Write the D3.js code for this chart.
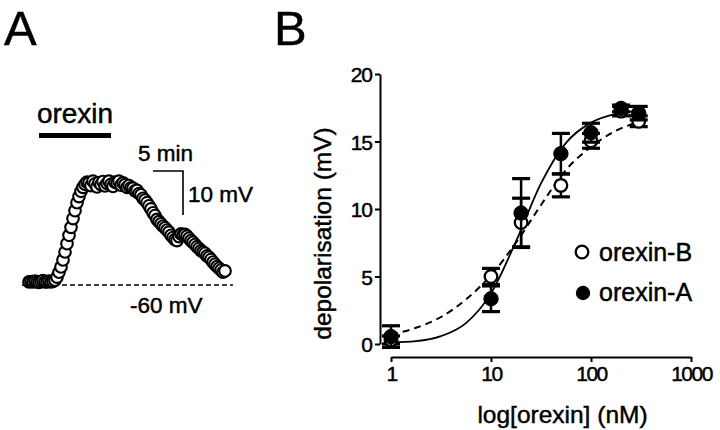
<!DOCTYPE html>
<html>
<head>
<meta charset="utf-8">
<script src="https://cdn.jsdelivr.net/npm/d3@7"></script>
<style>
  html, body { margin: 0; padding: 0; background: #fff; }
  svg { display: block; }
  text { font-family: "Liberation Sans", Arial, Helvetica, sans-serif; fill: #000; stroke: #000; stroke-width: 0.45px; }
</style>
</head>
<body>
<svg id="chart" width="720" height="430"></svg>
<script>
// ---------------- Panel A data: example recording ----------------
const traceSampleIntervalMin = 1 / 3;              // one sample every 20 s
const traceVm = [                                   // membrane potential (mV)
  -59.3,-59.2,-59.3,-59.1,-59.3,-59.4,-59.2,-59.0,-59.3,-59.3,-59.1,-59.3,-59.2,-58.9,
  -58.2,-57.1,-55.9,-54.3,-52.5,-50.6,-48.7,-46.9,-44.9,-43.1,-41.3,-39.9,-38.7,-37.8,-37.1,-36.6,
  -36.8,-37.4,-36.4,-37.0,-37.7,-36.7,-37.2,-36.5,-37.5,-36.9,-36.4,-37.1,-37.6,-36.6,-36.8,-36.4,-37.3,-36.8,-37.2,-37.8,-37.4,
  -37.9,-38.0,-38.6,-38.5,-39.2,-39.5,-40.3,-40.7,-41.3,-42.0,-42.7,-43.6,-44.2,-45.1,-45.6,-46.1,
  -46.6,-47.0,-47.5,-48.0,-48.7,-49.2,-49.7,-49.9,-49.0,-48.4,-48.6,-48.5,-48.9,-49.4,-49.9,-50.3,
  -50.8,-51.3,-51.7,-52.2,-52.5,-52.8,-53.4,-53.7,-54.2,-54.8,-55.3,-55.8,-56.2,-56.6,-57.1,-56.8
];
const restingVm = -60;
const orexinApplicationMin = [1.67, 13.67];
const baselineSpanMin = [-1.17, 34];
const scaleBarTimeMin = [20.67, 25.67];   // 5 min
const scaleBarVm = [-34.1, -44.1];        // 10 mV

// ---------------- Panel B data: concentration-response ----------------
const concentrationsNM = [1, 10, 20, 50, 100, 200, 300];
const orexinAMean = [0.55, 3.35, 9.7, 14.1, 15.65, 17.45, 17.1];
const orexinASem  = [0.8, 0.95, 2.55, 1.5, 0.7, 0.25, 0.5];
const orexinBMean = [0.3, 5.0, 9.0, 11.75, 15.05, 17.25, 16.5];
const orexinBSem  = [0.3, 0.6, 1.8, 0.85, 0.55, 0.35, 0.4];

const fitLogConc = [0, 0.25, 0.5, 0.75, 1.0, 1.25, 1.5, 1.75, 2.0, 2.25, 2.5];
const fitOrexinA = [0.12, 0.21, 0.58, 1.55, 3.75, 7.6, 11.9, 14.9, 16.4, 17.05, 17.27];
const fitOrexinB = [0.7, 1.2, 2.0, 3.3, 5.1, 7.5, 10.3, 12.9, 14.6, 15.8, 16.5];

const yTicks = [0, 5, 10, 15, 20];
const xTicks = [1, 10, 100, 1000];
const xTickLabels = ["1", "10", "100", "1000"];
const legendLabels = ["orexin-B", "orexin-A"];

// ------------------------------------------------------------------
const svg = d3.select("#chart");
svg.append("rect").attr("width", 720).attr("height", 430).attr("fill", "#fff");

// Panel letters
svg.append("text").attr("x", 4).attr("y", 44.5).attr("font-size", 49).text("A");
svg.append("text").attr("x", 274).attr("y", 44.5).attr("font-size", 49).text("B");

// ================= Panel A =================
const xA = d3.scaleLinear().domain([0, 34]).range([29, 233]);
const yA = d3.scaleLinear().domain([-60, -30]).range([285, 153]);
const gA = svg.append("g");

// baseline dashed
gA.append("line")
  .attr("x1", xA(baselineSpanMin[0])).attr("x2", xA(baselineSpanMin[1]))
  .attr("y1", yA(restingVm)).attr("y2", yA(restingVm))
  .attr("stroke", "#000").attr("stroke-width", 1.5).attr("stroke-dasharray", "5,3");
gA.append("text").attr("x", 130).attr("y", 313).attr("font-size", 22.5).text("-60 mV");

// orexin bar
gA.append("line")
  .attr("x1", xA(orexinApplicationMin[0])).attr("x2", xA(orexinApplicationMin[1]))
  .attr("y1", 135.5).attr("y2", 135.5)
  .attr("stroke", "#000").attr("stroke-width", 5);
gA.append("text")
  .attr("x", (xA(orexinApplicationMin[0]) + xA(orexinApplicationMin[1])) / 2)
  .attr("y", 123).attr("text-anchor", "middle").attr("font-size", 28).text("orexin");

// scale bar
gA.append("path")
  .attr("d", `M${xA(scaleBarTimeMin[0])},${yA(scaleBarVm[0])}H${xA(scaleBarTimeMin[1])}V${yA(scaleBarVm[1])}`)
  .attr("fill", "none").attr("stroke", "#000").attr("stroke-width", 1.6);
gA.append("text").attr("x", 138).attr("y", 161).attr("font-size", 22.5).text("5 min");
gA.append("text").attr("x", 188).attr("y", 202).attr("font-size", 22.5).text("10 mV");

// trace
gA.selectAll("circle.trace").data(traceVm).join("circle")
  .attr("class", "trace")
  .attr("cx", (d, i) => xA(i * traceSampleIntervalMin))
  .attr("cy", d => yA(d))
  .attr("r", 5.8)
  .attr("fill", "#fff").attr("stroke", "#000").attr("stroke-width", 2.1);

// ================= Panel B =================
const xB = d3.scaleLog().domain([1, 1000]).range([391, 691]);
const yB = d3.scaleLinear().domain([0, 20]).range([344, 74]);

// Y axis
const yAxis = svg.append("g").attr("transform", "translate(380,0)")
  .call(d3.axisLeft(yB).tickValues(yTicks).tickSize(5).tickPadding(3).tickSizeOuter(0));
yAxis.select(".domain").attr("stroke-width", 2);
yAxis.selectAll(".tick line").attr("stroke-width", 2);
yAxis.selectAll(".tick text").attr("font-size", 21).attr("letter-spacing", "-1px")
  .attr("font-family", "Liberation Sans, Arial, sans-serif").attr("dy", "0.36em");

// X axis
const xAxis = svg.append("g").attr("transform", "translate(0,357)")
  .call(d3.axisBottom(xB).tickValues(xTicks).tickFormat((d, i) => xTickLabels[i])
    .tickSize(5).tickPadding(4).tickSizeOuter(0));
xAxis.select(".domain").attr("stroke-width", 2);
xAxis.selectAll(".tick line").attr("stroke-width", 2);
xAxis.selectAll(".tick text").attr("font-size", 21).attr("letter-spacing", "-1.5px")
  .attr("font-family", "Liberation Sans, Arial, sans-serif");

// Axis titles
svg.append("text").attr("transform", "translate(331,233.5) rotate(-90)")
  .attr("text-anchor", "middle").attr("font-size", 24.5).text("depolarisation (mV)");
svg.append("text").attr("x", 562.5).attr("y", 422.5)
  .attr("text-anchor", "middle").attr("font-size", 24.5).text("log[orexin] (nM)");

// Fit curves
const fitLine = series => d3.line()
  .x((d, i) => xB(Math.pow(10, fitLogConc[i])))
  .y(d => yB(d))
  .curve(d3.curveMonotoneX)(series);
svg.append("path").attr("d", fitLine(fitOrexinB))
  .attr("fill", "none").attr("stroke", "#000").attr("stroke-width", 2)
  .attr("stroke-dasharray", "7,5");
svg.append("path").attr("d", fitLine(fitOrexinA))
  .attr("fill", "none").attr("stroke", "#000").attr("stroke-width", 1.8);

// error bars + points
function drawSeries(means, sems, filled) {
  const g = svg.append("g");
  const rows = concentrationsNM.map((c, i) => ({c, m: means[i], s: sems[i]}));
  const eb = g.selectAll("g.eb").data(rows).join("g");
  eb.append("line")
    .attr("x1", d => xB(d.c)).attr("x2", d => xB(d.c))
    .attr("y1", d => yB(d.m + d.s)).attr("y2", d => yB(d.m - d.s))
    .attr("stroke", "#000").attr("stroke-width", 2.5);
  [1, -1].forEach(sign => {
    eb.append("line")
      .attr("x1", d => xB(d.c) - 9).attr("x2", d => xB(d.c) + 9)
      .attr("y1", d => yB(d.m + sign * d.s)).attr("y2", d => yB(d.m + sign * d.s))
      .attr("stroke", "#000").attr("stroke-width", 3.2);
  });
  g.selectAll("circle").data(rows).join("circle")
    .attr("cx", d => xB(d.c)).attr("cy", d => yB(d.m))
    .attr("r", filled ? 7.2 : 6.3)
    .attr("fill", filled ? "#000" : "#fff")
    .attr("stroke", "#000").attr("stroke-width", filled ? 1 : 2.3);
}
drawSeries(orexinBMean, orexinBSem, false);
drawSeries(orexinAMean, orexinASem, true);

// Legend
const legend = svg.append("g");
legend.append("circle").attr("cx", 582).attr("cy", 252).attr("r", 6.3)
  .attr("fill", "#fff").attr("stroke", "#000").attr("stroke-width", 2.3);
legend.append("text").attr("x", 599).attr("y", 261).attr("font-size", 25).text(legendLabels[0]);
legend.append("circle").attr("cx", 583).attr("cy", 293).attr("r", 7.2).attr("fill", "#000");
legend.append("text").attr("x", 599).attr("y", 300.5).attr("font-size", 25).text(legendLabels[1]);
</script>
</body>
</html>
